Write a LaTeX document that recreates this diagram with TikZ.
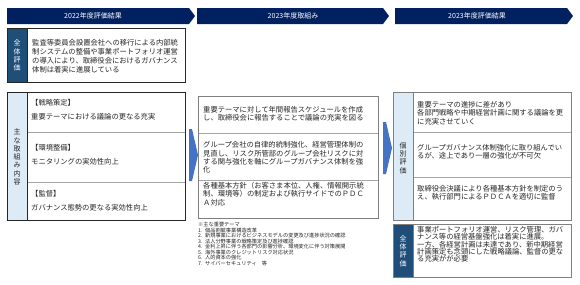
\documentclass[tikz,border=0pt]{standalone}
\usepackage{fontspec}
\setmainfont{Noto Sans CJK JP}
\usetikzlibrary{positioning}
\definecolor{navy}{HTML}{002060}
\definecolor{stripdark}{HTML}{1F4E79}
\definecolor{striplight}{HTML}{DDEBF7}
\definecolor{arrowblue}{HTML}{4472C4}
\definecolor{txtgray}{HTML}{262626}
\definecolor{boxline}{HTML}{7F7F7F}
\definecolor{sepline}{HTML}{A6A6A6}

\begin{document}
\begin{tikzpicture}[
    x=1pt, y=-1pt,
    hdrtxt/.style={text=white, inner sep=0pt, font=\fontsize{7}{8}\selectfont},
    body/.style={anchor=west, align=left, inner sep=0pt, text=txtgray, font=\fontsize{7.3}{8.4}\selectfont},
    vlab/.style={align=center, inner sep=0pt, font=\fontsize{7}{8.3}\selectfont},
    outer/.style={draw=#1, line width=0.8pt},
    sep/.style={draw=sepline, line width=0.6pt},
    note/.style={anchor=west, align=left, inner sep=0pt, text=txtgray, font=\fontsize{5.2}{5.45}\selectfont},
  ]
  \useasboundingbox[fill=white] (0,0) rectangle (580,284);

  % headers
  \fill[navy] (7,8) -- (189,8) -- (195,16) -- (189,24) -- (7,24) -- cycle;
  \fill[navy] (197,8) -- (383,8) -- (389,16) -- (383,24) -- (197,24) -- cycle;
  \fill[navy] (395,8) -- (567,8) -- (573,16) -- (567,24) -- (395,24) -- cycle;
  \node[hdrtxt] (h1) at (93,16) {2022年度評価結果};
  \node[hdrtxt] (h2) at (293,16) {2023年度取組み};
  \node[hdrtxt] (h3) at (477,16) {2023年度評価結果};

  % 2022: overall
  \fill[stripdark] (7,28) rectangle (27,82);
  \draw[outer=txtgray] (7,28) rectangle (185,82);
  \draw[outer=txtgray] (27,28) -- (27,82);
  \node[vlab, text=white] (l1lab) at (17,55.5) {全\\体\\評\\価};
  \node[body, font=\fontsize{7.3}{8.9}\selectfont] (l1txt) at (32,56)
    {監査等委員会設置会社への移行による内部統\\
     制システムの整備や事業ポートフォリオ運営\\
     の導入により、取締役会におけるガバナンス\\
     体制は着実に進展している};

  % 2022: main activities
  \fill[striplight] (7,92) rectangle (27,220);
  \draw[sep] (27,132) -- (185,132);
  \draw[sep] (27,182) -- (185,182);
  \draw[outer=txtgray] (7,92) rectangle (185,220);
  \draw[outer=txtgray] (27,92) -- (27,220);
  \node[vlab, text=txtgray] (l2lab) at (17,157) {主\\な\\取\\組\\み\\内\\容};
  \node[body, font=\fontsize{7.3}{14}\selectfont] (l2a) at (31,110)
    {【戦略策定】\\重要テーマにおける議論の更なる充実};
  \node[body, font=\fontsize{7.3}{14}\selectfont] (l2b) at (31,155)
    {【環境整備】\\モニタリングの実効性向上};
  \node[body, font=\fontsize{7.3}{14}\selectfont] (l2c) at (31,201)
    {【監督】\\ガバナンス態勢の更なる実効性向上};

  % arrows between columns
  \fill[arrowblue] (189,129) -- (192,129) -- (198,155) -- (192,181) -- (189,181) -- cycle;
  \fill[arrowblue] (383,122) -- (386,122) -- (392,148) -- (386,174) -- (383,174) -- cycle;

  % 2023: activities
  \draw[sep] (198,133) -- (378,133);
  \draw[sep] (198,180) -- (378,180);
  \draw[outer=boxline] (198,96) rectangle (378,218);
  \node[body] (m1) at (203,114)
    {重要テーマに対して年間報告スケジュールを作成\\
     し、取締役会に報告することで議論の充実を図る};
  \node[body] (m2) at (203,157.5)
    {グループ会社の自律的統制強化、経営管理体制の\\
     見直し、リスク所管部のグループ会社リスクに対\\
     する関与強化を軸にグループガバナンス体制を強\\
     化};
  \node[body] (m3) at (203,194)
    {各種基本方針（お客さま本位、人権、情報開示統\\
     制、環境等）の制定および執行サイドでのＰＤＣ\\
     Ａ対応};
  \node[note] (m4) at (198,244)
    {※主な重要テーマ\\
     1.\enspace 個品割賦事業構造改革\\
     2.\enspace 新規事業におけるビジネスモデルの変更及び進捗状況の確認\\
     3.\enspace 法人分野事業の戦略策定及び進捗確認\\
     4.\enspace 金利上昇に伴う各部門の影響分析、環境変化に伴う対策展開\\
     5.\enspace 海外事業のクレジットリスク対応状況\\
     6.\enspace 人的資本の強化\\
     7.\enspace サイバーセキュリティ　等};

  % 2023: individual evaluation
  \fill[striplight] (393,92) rectangle (413,220);
  \draw[sep] (413,132) -- (571,132);
  \draw[sep] (413,177) -- (571,177);
  \draw[outer=boxline] (393,92) rectangle (571,220);
  \draw[outer=boxline] (413,92) -- (413,220);
  \node[vlab, text=txtgray] (r1lab) at (403,158) {個\\別\\評\\価};
  \node[body] (r1a) at (417,113)
    {重要テーマの進捗に差があり\\
     各部門戦略や中期経営計画に関する議論を更\\
     に充実させていく};
  \node[body] (r1b) at (417,152)
    {グループガバナンス体制強化に取り組んでい\\
     るが、途上であり一層の強化が不可欠};
  \node[body] (r1c) at (417,192.5)
    {取締役会決議により各種基本方針を制定のう\\
     え、執行部門によるＰＤＣＡを適切に監督};

  % 2023: overall
  \fill[stripdark] (393,224) rectangle (413,277);
  \draw[outer=boxline] (393,224) rectangle (571,277);
  \draw[outer=boxline] (413,224) -- (413,277);
  \node[vlab, text=white] (r2lab) at (403,251) {全\\体\\評\\価};
  \node[body, font=\fontsize{7.3}{7.2}\selectfont] (r2txt) at (417,244.3)
    {事業ポートフォリオ運営、リスク管理、ガバ\\
     ナンス等の経営基盤強化は着実に進展。\\
     一方、各経営計画は未達であり、新中期経営\\
     計画策定も念頭にした戦略議論、監督の更な\\
     る充実がが必要};
\end{tikzpicture}
\end{document}
